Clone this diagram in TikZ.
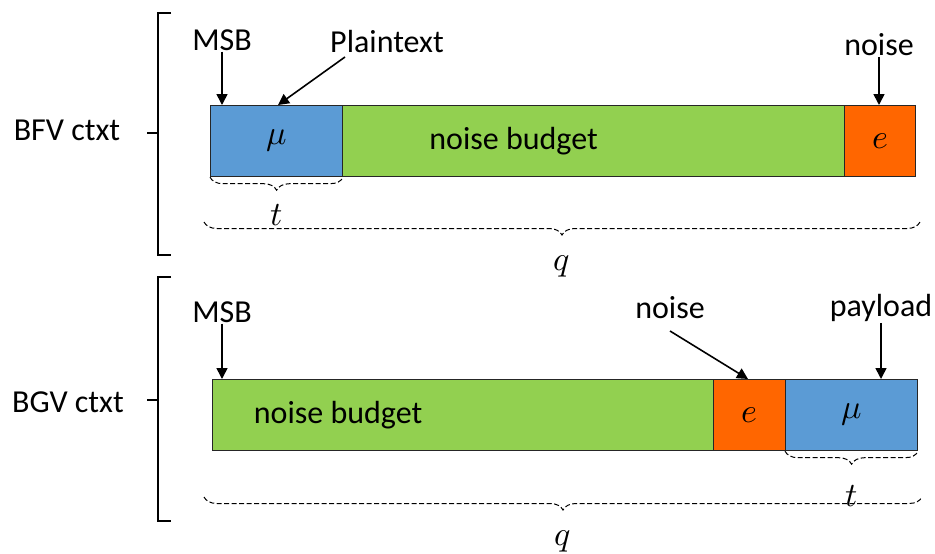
\documentclass[tikz,border=0pt]{standalone}
\usepackage{fontspec}
\usepackage{unicode-math}
\setmainfont{Carlito}
\setmathfont{Latin Modern Math}
\usetikzlibrary{arrows.meta,decorations.pathreplacing}
\definecolor{segblue}{HTML}{5B9BD5}
\definecolor{seggreen}{HTML}{92D050}
\definecolor{segorange}{HTML}{FF6600}
\tikzset{
  seg/.style={draw=black!85, line width=1.2pt, anchor=north west, inner sep=0pt,
    minimum height=71, font=\fontsize{32}{38}\selectfont},
  segmath/.style={seg, font=\fontsize{34}{40}\selectfont},
  lbl/.style={inner sep=1pt, font=\fontsize{32}{38}\selectfont},
  arr/.style={line width=1.6pt, -{Triangle[length=11pt,width=11pt]}},
  dbrace/.style={decorate, decoration={brace, amplitude=13pt, mirror, aspect=0.5},
    dashed, line width=1pt, dash pattern=on 5pt off 2.5pt},
  grp/.style={line width=2.6pt},
  mathlbl/.style={font=\fontsize{34}{40}\selectfont, inner sep=0pt}
}
\begin{document}
\begin{tikzpicture}[x=1pt,y=-1pt]
\useasboundingbox (0,0) rectangle (935,554);

% ---- BFV ciphertext ----
\draw[grp] (171,13) -- (158,13) -- (158,255) -- (171,255);
\draw[grp] (158,133) -- (147,133);
\node[lbl] (bfv) at (67,130) {BFV ctxt};

\node[segmath, fill=segblue,   minimum width=132] (b1) at (210,105) {$\mu$};
\node[seg,     fill=seggreen,  minimum width=502] (b2) at (342,105) {\hspace*{-160pt}noise budget};
\node[segmath, fill=segorange, minimum width=71]  (b3) at (844,105) {$e$};

\node[lbl] (msb1) at (222,40) {MSB};
\node[lbl] (pt) at (387,42) {Plaintext};
\node[lbl] (nz1) at (879,45) {noise};
\coordinate (ptfrom) at (345,57);
\coordinate (ptto) at (278,105);
\draw[arr] (msb1.south) -- (msb1.south |- b1.north);
\draw[arr] (ptfrom) -- (ptto);
\draw[arr] (nz1.south) -- (nz1.south |- b3.north);

\draw[dbrace] (b1.south west) -- (b1.south east) node[midway, below=27pt, mathlbl] (t1) {$t$};
\coordinate (q1l) at (204,222);
\coordinate (q1r) at (920,222);
\draw[dbrace] (q1l) -- (q1r) node[midway, below=33pt, mathlbl] (q1) {$q$};

% ---- BGV ciphertext ----
\draw[grp] (171,277) -- (158,277) -- (158,521) -- (171,521);
\draw[grp] (158,400) -- (147,400);
\node[lbl] (bgv) at (68,402) {BGV ctxt};

\node[seg,     fill=seggreen,  minimum width=501] (g1) at (212,379) {\hspace*{-250pt}noise budget};
\node[segmath, fill=segorange, minimum width=72]  (g2) at (713,379) {$e$};
\node[segmath, fill=segblue,   minimum width=132] (g3) at (785,379) {$\mu$};

\node[lbl] (msb2) at (222,312) {MSB};
\node[lbl] (nz2) at (670,308) {noise};
\node[lbl] (pay) at (881,308) {payload};
\coordinate (nzfrom) at (670,331);
\coordinate (nzto) at (748,379);
\draw[arr] (msb2.south) -- (msb2.south |- g1.north);
\draw[arr] (nzfrom) -- (nzto);
\draw[arr] (pay.south) -- (pay.south |- g3.north);

\draw[dbrace] (g3.south west) -- (g3.south east) node[midway, below=34pt, mathlbl] (t2) {$t$};
\coordinate (q2l) at (204,497);
\coordinate (q2r) at (922,497);
\draw[dbrace] (q2l) -- (q2r) node[midway, below=33pt, mathlbl] (q2) {$q$};
\end{tikzpicture}
\end{document}
